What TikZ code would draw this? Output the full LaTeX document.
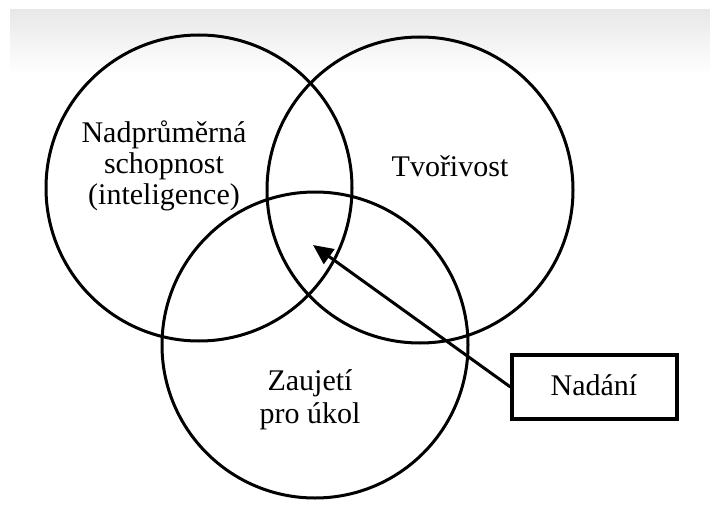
\documentclass[tikz,border=0pt]{standalone}
\usepackage{fontspec}
\setmainfont{Liberation Serif}
\usetikzlibrary{arrows.meta}
\tikzset{
  ring/.style={circle, draw=black, line width=3pt, minimum size=306pt, inner sep=0pt},
  lbl/.style={anchor=base, inner sep=0pt, font=\fontsize{30}{31}\selectfont},
  boxnode/.style={draw=black, line width=3.2pt, minimum width=165pt, minimum height=64pt, inner sep=0pt},
  arr/.style={line width=3pt, -{Triangle[length=20pt,width=18pt]}}
}
\begin{document}
\begin{tikzpicture}[x=1pt,y=-1pt]
  \useasboundingbox (0,0) rectangle (710,511);
  \fill[white] (0,0) rectangle (710,511);
  \shade[top color=black!9, bottom color=white] (10,10) rectangle (710,75);
  % circles
  \node[ring] (L) at (199,188) {};
  \node[ring] (R) at (420,190) {};
  \node[ring] (B) at (315,345) {};
  % labels
  \node[lbl] (l1) at (164,142) {Nadprůměrná};
  \node[lbl] (l2) at (164,173) {schopnost};
  \node[lbl] (l3) at (164,204) {(inteligence)};
  \node[lbl] (r1) at (450,176) {Tvořivost};
  \node[lbl] (b1) at (310,390) {Zaujetí};
  \node[lbl] (b2) at (310,423) {pro úkol};
  % box
  \node[boxnode] (N) at (594.5,387) {};
  \node[lbl] (n1) at (594,395) {Nadání};
  \coordinate (tip) at (313,245);
  \draw[arr] (N.west) -- (tip);
\end{tikzpicture}
\end{document}
